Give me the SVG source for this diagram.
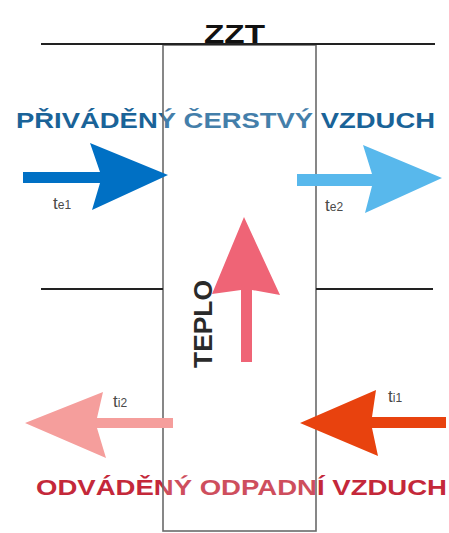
<svg xmlns="http://www.w3.org/2000/svg" width="449" height="533" viewBox="0 0 449 533">
  <style>
    .caption { font-family: "Liberation Sans", Arial, sans-serif; font-weight: bold; }
    .temp { font-family: "Liberation Sans", Arial, sans-serif; fill: #4a4a4a; }
    .rule { stroke: #222; stroke-width: 2; fill: none; }
    .frame { stroke: #6a6a6a; stroke-width: 1.6; fill: none; }
  </style>
  <rect width="449" height="533" fill="#ffffff"/>

  <!-- air stream captions -->
  <g id="supply-caption">
    <text class="caption" x="16" y="128" font-size="22" textLength="419" lengthAdjust="spacingAndGlyphs" fill="#1a6398">PŘIVÁDĚNÝ ČERSTVÝ VZDUCH</text>
  </g>
  <g id="exhaust-caption">
    <text class="caption" x="36" y="495" font-size="22" textLength="411" lengthAdjust="spacingAndGlyphs" fill="#c4283a">ODVÁDĚNÝ ODPADNÍ VZDUCH</text>
  </g>

  <!-- heat recovery unit -->
  <g id="zzt-unit">
    <rect x="163" y="45" width="153" height="486" fill="#ffffff" fill-opacity="0.18"/>
    <rect class="frame" x="163" y="45" width="153" height="486"/>
    <line class="rule" x1="41" y1="44" x2="435" y2="44"/>
    <line class="rule" x1="41" y1="289" x2="163" y2="289"/>
    <line class="rule" x1="316" y1="289" x2="433" y2="289"/>
    <text class="caption" x="204" y="43" font-size="25" textLength="61" lengthAdjust="spacingAndGlyphs" fill="#111">ZZT</text>
  </g>

  <g id="heat-label">
    <text class="caption" transform="translate(212,368) rotate(-90)" font-size="26" textLength="88" lengthAdjust="spacingAndGlyphs" fill="#2a2a2a">TEPLO</text>
  </g>

  <!-- temperature labels -->
  <g id="te1"><text class="temp" x="53" y="209" font-size="17">t<tspan font-size="12">e1</tspan></text></g>
  <g id="te2"><text class="temp" x="325" y="211" font-size="17">t<tspan font-size="12">e2</tspan></text></g>
  <g id="ti2"><text class="temp" x="113" y="407" font-size="17">t<tspan font-size="12">i2</tspan></text></g>
  <g id="ti1"><text class="temp" x="388" y="402" font-size="17">t<tspan font-size="12">i1</tspan></text></g>

  <!-- flow arrows -->
  <g id="connectors">
    <path d="M23,172 H100 L90,143 L168,175 L92,210 L100,183 H23 Z" fill="#0070c4"/>
    <path d="M297,174 H372 L363,145 L442,178 L365,213 L372,186 H297 Z" fill="#58b8ec"/>
    <path d="M241,362 V290 L212,294 L244,217 L280,295 L252,290 V362 Z" fill="#ef6476"/>
    <path d="M173,418 H97 L103,392 L25,423 L106,458 L97,428 H173 Z" fill="#f59e9c"/>
    <path d="M446,417 H372 L376,390 L300,423 L378,456 L372,428 H446 Z" fill="#e8420e"/>
  </g>
</svg>
